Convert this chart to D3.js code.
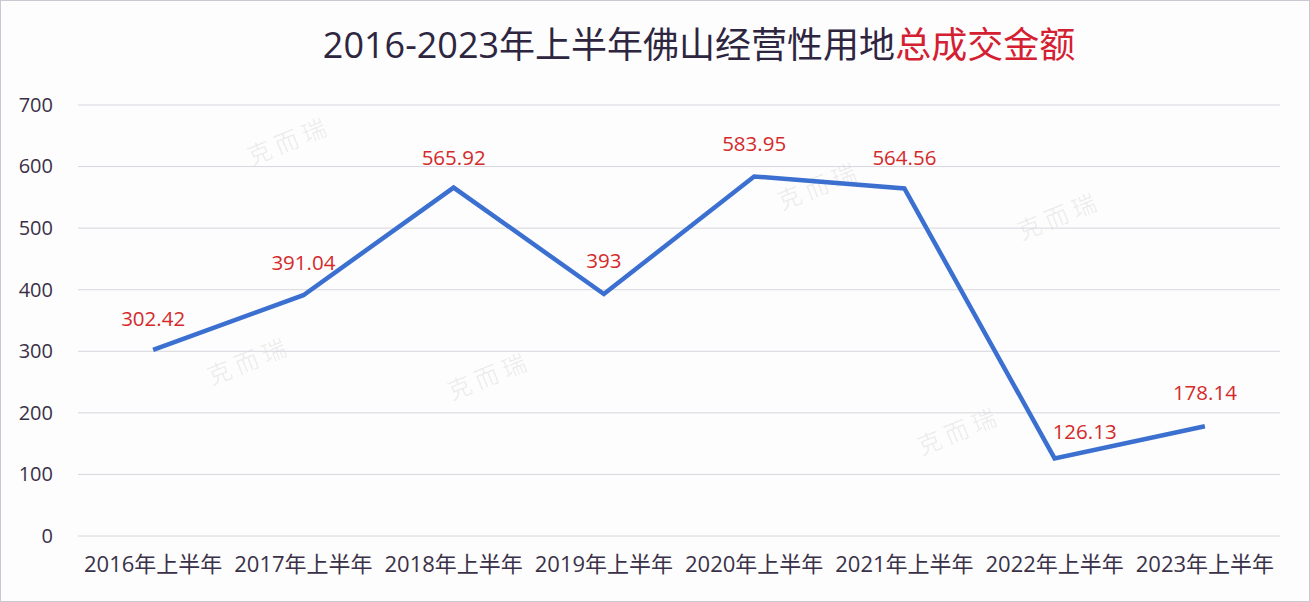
<!DOCTYPE html>
<html><head><meta charset="utf-8">
<script src="https://cdn.jsdelivr.net/npm/d3@7/dist/d3.min.js"></script>
<style>
html,body{margin:0;padding:0;background:#fdfdfe;}
svg{display:block;}
</style></head>
<body><svg id="c" width="1310" height="602"></svg>
<script>
const categories = ["2016年上半年","2017年上半年","2018年上半年","2019年上半年","2020年上半年","2021年上半年","2022年上半年","2023年上半年"];
const values = [302.42, 391.04, 565.92, 393, 583.95, 564.56, 126.13, 178.14];
const valueLabels = ["302.42","391.04","565.92","393","583.95","564.56","126.13","178.14"];
const yTicks = [0,100,200,300,400,500,600,700];
const titleMain = "2016-2023年上半年佛山经营性用地";
const titleRed = "总成交金额";
const watermark = "克 而 瑞";

const W = 1310, H = 602;
const m = {left:78, right:30, top:105, bottom:66};
const svg = d3.select("#c");
const font = "'Open Sans','Noto Sans CJK SC',sans-serif";

svg.append("rect").attr("x",0.5).attr("y",0.5).attr("width",W-1).attr("height",H-1)
  .attr("fill","#fdfdfe").attr("stroke","#c9c9d6");

const x = d3.scaleBand().domain(categories).range([m.left, W-m.right]);
const y = d3.scaleLinear().domain([0,700]).range([H-m.bottom, m.top]);

// watermarks
const wmPos = [[290,150],[250,370],[490,385],[820,195],[1060,225],[960,440]];
wmPos.forEach(p=>{
  svg.append("text").attr("transform",`translate(${p[0]},${p[1]}) rotate(-22)`)
    .attr("font-family","'Noto Sans CJK SC',sans-serif").attr("font-size",24)
    .attr("fill","#000").attr("fill-opacity",0.07).attr("text-anchor","middle")
    .text(watermark);
});

// grid
svg.append("g").selectAll("line").data(yTicks).join("line")
  .attr("x1",m.left).attr("x2",W-m.right)
  .attr("y1",d=>y(d)).attr("y2",d=>y(d))
  .attr("stroke","#d6d6dc").attr("stroke-width",1);

// y axis
const ya = svg.append("g").attr("transform",`translate(${m.left},0)`)
  .call(d3.axisLeft(y).tickValues(yTicks).tickSize(0).tickPadding(25));
ya.select(".domain").remove();
ya.selectAll("text").attr("font-family",font).attr("font-size",20).attr("fill","#3a3148");

// x axis
const xa = svg.append("g").attr("transform",`translate(0,${H-m.bottom})`)
  .call(d3.axisBottom(x).tickSize(0).tickPadding(20));
xa.select(".domain").remove();
xa.selectAll("text").attr("font-family",font).attr("font-size",22).attr("fill","#3a3148");

// line
const line = d3.line().x((d,i)=>x(categories[i])+x.bandwidth()/2).y(d=>y(d));
svg.append("path").datum(values).attr("d",line)
  .attr("fill","none").attr("stroke","#3b70d0").attr("stroke-width",4.5)
  .attr("stroke-linejoin","miter");

// labels
const offsets = [-24,-25,-23,-26,-25,-23,-19,-26];
const dxs = [0,0,0,0,0,0,30,0];
svg.append("g").selectAll("text").data(values).join("text")
  .attr("x",(d,i)=>x(categories[i])+x.bandwidth()/2+dxs[i])
  .attr("y",(d,i)=>y(d)+offsets[i])
  .attr("text-anchor","middle")
  .attr("font-family",font).attr("font-size",20.5).attr("fill","#d42a2a")
  .text((d,i)=>valueLabels[i]);

// title
const t = svg.append("text").attr("x",699).attr("y",58).attr("text-anchor","middle")
  .attr("font-family",font).attr("font-size",36);
t.append("tspan").attr("fill","#2e2640").text(titleMain);
t.append("tspan").attr("fill","#d42030").text(titleRed);
</script></body></html>
